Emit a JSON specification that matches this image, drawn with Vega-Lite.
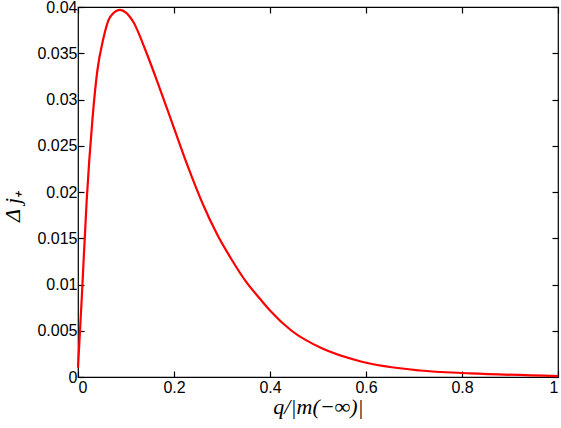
{
  "$schema": "https://vega.github.io/schema/vega-lite/v6.json",
  "width": 480,
  "height": 370,
  "autosize": "none",
  "padding": {"left": 78, "top": 7, "right": 3, "bottom": 51},
  "background": "white",
  "config": {
    "view": {"stroke": "black", "strokeWidth": 1.2},
    "font": "Liberation Sans",
    "axis": {
      "grid": false,
      "domain": false,
      "tickColor": "black",
      "tickSize": -6,
      "tickWidth": 1.2,
      "labelFont": "Liberation Sans",
      "labelFontSize": 16,
      "labelColor": "black",
      "titleColor": "black"
    }
  },
  "data": {
    "values": [
      {"q": 0.0, "v": 0.001},
      {"q": 0.0077, "v": 0.0084},
      {"q": 0.018, "v": 0.0190},
      {"q": 0.030, "v": 0.0278},
      {"q": 0.040, "v": 0.0330},
      {"q": 0.052, "v": 0.0364},
      {"q": 0.0667, "v": 0.0389},
      {"q": 0.0875, "v": 0.0397},
      {"q": 0.100, "v": 0.0394},
      {"q": 0.115, "v": 0.0384},
      {"q": 0.143, "v": 0.0350},
      {"q": 0.171, "v": 0.0311},
      {"q": 0.200, "v": 0.0269},
      {"q": 0.230, "v": 0.0226},
      {"q": 0.260, "v": 0.0187},
      {"q": 0.290, "v": 0.0154},
      {"q": 0.320, "v": 0.0127},
      {"q": 0.350, "v": 0.0103},
      {"q": 0.380, "v": 0.0084},
      {"q": 0.400, "v": 0.0072},
      {"q": 0.445, "v": 0.0050},
      {"q": 0.508, "v": 0.0031},
      {"q": 0.5875, "v": 0.0017},
      {"q": 0.7125, "v": 0.0007},
      {"q": 0.817, "v": 0.0004},
      {"q": 1.0, "v": 0.0001}
    ]
  },
  "resolve": {"axis": {"x": "independent", "y": "independent"}},
  "layer": [
    {
      "mark": {"type": "line", "color": "#ff0000", "strokeWidth": 2.2, "interpolate": "monotone"},
      "encoding": {
        "x": {
          "field": "q", "type": "quantitative",
          "scale": {"domain": [0, 1], "nice": false, "zero": false},
          "axis": {
            "orient": "bottom", "values": [0, 0.2, 0.4, 0.6, 0.8, 1], "format": "~g",
            "labelPadding": 8,
            "title": "q/|m(−∞)|", "titleFont": "Liberation Serif", "titleFontStyle": "italic",
            "titleFontWeight": "normal", "titleFontSize": 22, "titlePadding": 1
          }
        },
        "y": {
          "field": "v", "type": "quantitative",
          "scale": {"domain": [0, 0.04], "nice": false, "zero": false},
          "axis": {
            "orient": "left", "labelPadding": 7,
            "values": [0, 0.005, 0.01, 0.015, 0.02, 0.025, 0.03, 0.035, 0.04], "format": "~g",
            "title": "Δ j₊", "titleFont": "Liberation Serif", "titleFontStyle": "italic",
            "titleFontWeight": "normal", "titleFontSize": 22, "titlePadding": 12, "titleY": 199
          }
        }
      }
    },
    {
      "mark": {"type": "line", "strokeOpacity": 0},
      "encoding": {
        "x": {
          "field": "q", "type": "quantitative",
          "axis": {"orient": "top", "values": [0, 0.2, 0.4, 0.6, 0.8, 1], "labels": false, "title": null}
        },
        "y": {
          "field": "v", "type": "quantitative",
          "axis": {"orient": "right", "values": [0, 0.005, 0.01, 0.015, 0.02, 0.025, 0.03, 0.035, 0.04], "labels": false, "title": null}
        }
      }
    }
  ]
}
